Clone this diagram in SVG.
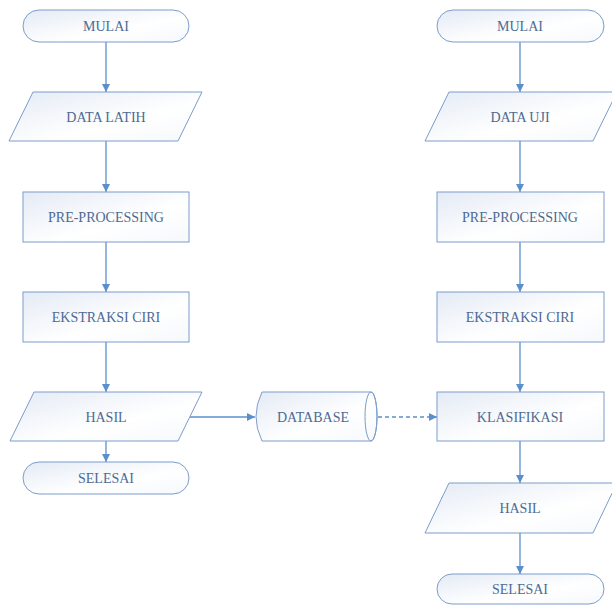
<svg xmlns="http://www.w3.org/2000/svg" width="612" height="607" viewBox="0 0 612 607">
<defs>
<linearGradient id="g" x1="0" y1="0" x2="1" y2="1">
<stop offset="0" stop-color="#e4ebf5"/>
<stop offset="0.6" stop-color="#ffffff"/>
<stop offset="1" stop-color="#f6f8fc"/>
</linearGradient>
<marker id="ah" viewBox="0 0 10 10" refX="10" refY="5" markerWidth="8" markerHeight="8" markerUnits="userSpaceOnUse" orient="auto">
<path d="M0,0 L10,5 L0,10 z" fill="#5b8fcc"/>
</marker>
<style>
.s{fill:url(#g);stroke:#7c9ccb;stroke-width:1}
.t{font-family:'Liberation Serif','DejaVu Serif',serif;font-size:14px;fill:#4d6a93;text-anchor:middle}
.c{stroke:#5b8fcc;stroke-width:1.3;fill:none;marker-end:url(#ah)}
</style>
</defs>
<rect width="612" height="607" fill="#ffffff"/>
<g id="connectors">
<line class="c" x1="106" y1="42" x2="106" y2="92"/>
<line class="c" x1="106" y1="141" x2="106" y2="192"/>
<line class="c" x1="106" y1="242" x2="106" y2="292"/>
<line class="c" x1="106" y1="342" x2="106" y2="392"/>
<line class="c" x1="106" y1="441" x2="106" y2="462"/>
<line class="c" x1="190" y1="417" x2="255" y2="417"/>
<line class="c" x1="378" y1="417" x2="437" y2="417" stroke-dasharray="4,3"/>
<line class="c" x1="520" y1="42" x2="520" y2="92"/>
<line class="c" x1="520" y1="141" x2="520" y2="192"/>
<line class="c" x1="520" y1="242" x2="520" y2="292"/>
<line class="c" x1="520" y1="342" x2="520" y2="392"/>
<line class="c" x1="520" y1="441" x2="520" y2="483"/>
<line class="c" x1="520" y1="533" x2="520" y2="574"/>
</g>
<g id="mulai1"><rect class="s" x="23" y="10" width="166" height="32" rx="16"/><text class="t" x="106" y="31">MULAI</text></g>
<g id="datalatih"><polygon class="s" points="33,92 202,92 178,141 9,141"/><text class="t" x="106" y="121.5">DATA LATIH</text></g>
<g id="pre1"><rect class="s" x="23" y="192" width="166" height="50"/><text class="t" x="106" y="222">PRE-PROCESSING</text></g>
<g id="eks1"><rect class="s" x="23" y="292" width="166" height="50"/><text class="t" x="106" y="322">EKSTRAKSI CIRI</text></g>
<g id="hasil1"><polygon class="s" points="34,392 202,392 178,441 10,441"/><text class="t" x="106" y="421.5">HASIL</text></g>
<g id="selesai1"><rect class="s" x="23" y="462" width="166" height="32" rx="16"/><text class="t" x="106" y="483">SELESAI</text></g>
<g id="database">
<path class="s" d="M262,392 L371,392 A6,24.5 0 0 1 371,441 L262,441 Q250,416.5 262,392 Z"/>
<ellipse cx="371" cy="416.5" rx="6" ry="24.5" fill="none" stroke="#7c9ccb"/>
<text class="t" x="313" y="421.5">DATABASE</text>
</g>
<g id="mulai2"><rect class="s" x="437" y="10" width="167" height="32" rx="16"/><text class="t" x="520" y="31">MULAI</text></g>
<g id="datauji"><polygon class="s" points="449,92 617,92 593,141 425,141"/><text class="t" x="520" y="121.5">DATA UJI</text></g>
<g id="pre2"><rect class="s" x="437" y="192" width="167" height="50"/><text class="t" x="520" y="222">PRE-PROCESSING</text></g>
<g id="eks2"><rect class="s" x="437" y="292" width="167" height="50"/><text class="t" x="520" y="322">EKSTRAKSI CIRI</text></g>
<g id="klasifikasi"><rect class="s" x="437" y="392" width="167" height="49"/><text class="t" x="520" y="421.5">KLASIFIKASI</text></g>
<g id="hasil2"><polygon class="s" points="449,483 617,483 593,533 425,533"/><text class="t" x="520" y="512.5">HASIL</text></g>
<g id="selesai2"><rect class="s" x="437" y="574" width="167" height="30" rx="15"/><text class="t" x="520" y="594">SELESAI</text></g>
</svg>
